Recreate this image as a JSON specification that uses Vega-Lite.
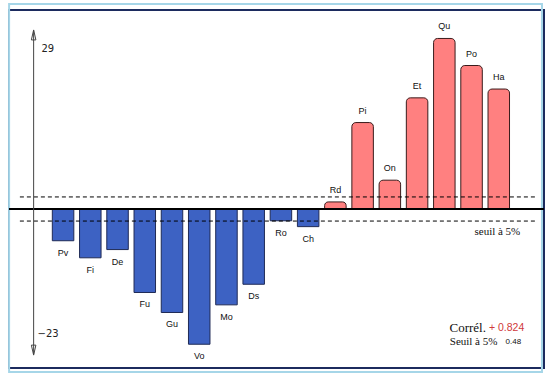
{
  "$schema": "https://vega.github.io/schema/vega-lite/v6.json",
  "width": 535,
  "height": 358,
  "autosize": "none",
  "padding": {"left": 9, "top": 10, "right": 10, "bottom": 13},
  "background": "white",
  "config": {"view": {"stroke": "#1c2b5e", "strokeWidth": 2}},
  "data": {"values": [
    {"name": "Pv", "rank": 1, "value": -5.4},
    {"name": "Fi", "rank": 2, "value": -8.3},
    {"name": "De", "rank": 3, "value": -6.9},
    {"name": "Fu", "rank": 4, "value": -14.2},
    {"name": "Gu", "rank": 5, "value": -17.6},
    {"name": "Vo", "rank": 6, "value": -23},
    {"name": "Mo", "rank": 7, "value": -16.3},
    {"name": "Ds", "rank": 8, "value": -12.8},
    {"name": "Ro", "rank": 9, "value": -2.0},
    {"name": "Ch", "rank": 10, "value": -3.0},
    {"name": "Rd", "rank": 11, "value": 1.2},
    {"name": "Pi", "rank": 12, "value": 14.7},
    {"name": "On", "rank": 13, "value": 4.9},
    {"name": "Et", "rank": 14, "value": 18.9},
    {"name": "Qu", "rank": 15, "value": 29},
    {"name": "Po", "rank": 16, "value": 24.4},
    {"name": "Ha", "rank": 17, "value": 20.4}
  ]},
  "layer": [
    {
      "data": {"values": [{}]},
      "mark": {"type": "rect", "fill": null, "stroke": "#a6d6e8", "strokeWidth": 2},
      "encoding": {
        "x": {"datum": -0.982, "type": "quantitative", "scale": {"domain": [-0.802, 18.477], "nice": false, "zero": false}, "axis": null},
        "x2": {"datum": 18.586},
        "y": {"datum": 34.86, "type": "quantitative", "scale": {"domain": [-27.04, 33.84], "nice": false, "zero": false}, "axis": null},
        "y2": {"datum": -27.72}
      }
    },
    {
      "transform": [{"filter": "datum.value < 0"}],
      "mark": {"type": "bar", "size": 21.5, "fill": "#3d62c3", "stroke": "#1f2a55", "strokeWidth": 1},
      "encoding": {
        "x": {"field": "rank", "type": "quantitative", "scale": {"domain": [-0.802, 18.477], "nice": false, "zero": false}, "axis": null},
        "y": {"field": "value", "type": "quantitative", "scale": {"domain": [-27.04, 33.84], "nice": false, "zero": false}, "axis": null},
        "y2": {"datum": 0}
      }
    },
    {
      "transform": [{"filter": "datum.value > 0"}],
      "mark": {"type": "bar", "size": 21.5, "fill": "#ff8080", "stroke": "#3a1c1c", "strokeWidth": 1, "cornerRadiusTopLeft": 4, "cornerRadiusTopRight": 4},
      "encoding": {
        "x": {"field": "rank", "type": "quantitative"},
        "y": {"field": "value", "type": "quantitative"},
        "y2": {"datum": 0}
      }
    },
    {
      "transform": [{"filter": "datum.value > 0"}],
      "mark": {"type": "text", "dy": -12, "baseline": "middle", "align": "center", "font": "Liberation Sans", "fontSize": 9, "fill": "#111"},
      "encoding": {
        "x": {"field": "rank", "type": "quantitative"},
        "y": {"field": "value", "type": "quantitative"},
        "text": {"field": "name"}
      }
    },
    {
      "transform": [{"filter": "datum.value < 0"}],
      "mark": {"type": "text", "dy": 12, "baseline": "middle", "align": "center", "font": "Liberation Sans", "fontSize": 9, "fill": "#111"},
      "encoding": {
        "x": {"field": "rank", "type": "quantitative"},
        "y": {"field": "value", "type": "quantitative"},
        "text": {"field": "name"}
      }
    },
    {
      "data": {"values": [{}]},
      "mark": {"type": "rule", "color": "#000", "strokeWidth": 1, "strokeDash": [4, 3]},
      "encoding": {
        "x": {"datum": -0.586, "type": "quantitative"},
        "x2": {"datum": 18.37},
        "y": {"datum": 2.05, "type": "quantitative"}
      }
    },
    {
      "data": {"values": [{}]},
      "mark": {"type": "rule", "color": "#000", "strokeWidth": 1, "strokeDash": [4, 3]},
      "encoding": {
        "x": {"datum": -0.586, "type": "quantitative"},
        "x2": {"datum": 18.37},
        "y": {"datum": -2.05, "type": "quantitative"}
      }
    },
    {
      "data": {"values": [{}]},
      "mark": {"type": "rule", "color": "#000", "strokeWidth": 2},
      "encoding": {
        "y": {"datum": 0, "type": "quantitative"}
      }
    },
    {
      "data": {"values": [{}]},
      "mark": {"type": "rule", "color": "#444", "strokeWidth": 1},
      "encoding": {
        "x": {"datum": -0.081, "type": "quantitative"},
        "y": {"datum": 30.4, "type": "quantitative"},
        "y2": {"datum": -24.7}
      }
    },
    {
      "data": {"values": [{}]},
      "mark": {"type": "point", "shape": "M0,-1L0.45,1L-0.45,1Z", "size": 100, "filled": false, "stroke": "#444", "strokeWidth": 1, "opacity": 1},
      "encoding": {
        "x": {"datum": -0.081, "type": "quantitative"},
        "y": {"datum": 29.6, "type": "quantitative"}
      }
    },
    {
      "data": {"values": [{}]},
      "mark": {"type": "point", "shape": "M0,1L0.45,-1L-0.45,-1Z", "size": 100, "filled": false, "stroke": "#444", "strokeWidth": 1, "opacity": 1},
      "encoding": {
        "x": {"datum": -0.081, "type": "quantitative"},
        "y": {"datum": -24.0, "type": "quantitative"}
      }
    },
    {
      "data": {"values": [{}]},
      "mark": {"type": "text", "text": "29", "align": "left", "baseline": "middle", "font": "DejaVu Sans", "fontSize": 10, "fill": "#222"},
      "encoding": {
        "x": {"datum": 0.207, "type": "quantitative"},
        "y": {"datum": 27.16, "type": "quantitative"}
      }
    },
    {
      "data": {"values": [{}]},
      "mark": {"type": "text", "text": "\u221223", "align": "left", "baseline": "middle", "font": "DejaVu Sans", "fontSize": 10, "fill": "#222"},
      "encoding": {
        "x": {"datum": 0.063, "type": "quantitative"},
        "y": {"datum": -21.26, "type": "quantitative"}
      }
    },
    {
      "data": {"values": [{}]},
      "mark": {"type": "text", "text": "seuil à 5%", "align": "right", "baseline": "middle", "font": "Liberation Serif", "fontSize": 11, "fill": "#111"},
      "encoding": {
        "x": {"datum": 17.79, "type": "quantitative"},
        "y": {"datum": -3.86, "type": "quantitative"}
      }
    },
    {
      "data": {"values": [{}]},
      "mark": {"type": "text", "text": "Corrél.", "align": "right", "baseline": "middle", "font": "Liberation Serif", "fontSize": 13, "fill": "#111"},
      "encoding": {
        "x": {"datum": 16.53, "type": "quantitative"},
        "y": {"datum": -20.2, "type": "quantitative"}
      }
    },
    {
      "data": {"values": [{}]},
      "mark": {"type": "text", "text": "+ 0.824", "align": "left", "baseline": "middle", "font": "Liberation Sans", "fontSize": 10.5, "fill": "#d0393b"},
      "encoding": {
        "x": {"datum": 16.64, "type": "quantitative"},
        "y": {"datum": -20.2, "type": "quantitative"}
      }
    },
    {
      "data": {"values": [{}]},
      "mark": {"type": "text", "text": "Seuil à 5%", "align": "left", "baseline": "middle", "font": "Liberation Serif", "fontSize": 11, "fill": "#111"},
      "encoding": {
        "x": {"datum": 15.2, "type": "quantitative"},
        "y": {"datum": -22.6, "type": "quantitative"}
      }
    },
    {
      "data": {"values": [{}]},
      "mark": {"type": "text", "text": "0.48", "align": "left", "baseline": "middle", "font": "Liberation Sans", "fontSize": 8, "fill": "#111"},
      "encoding": {
        "x": {"datum": 17.25, "type": "quantitative"},
        "y": {"datum": -22.6, "type": "quantitative"}
      }
    }
  ]
}
